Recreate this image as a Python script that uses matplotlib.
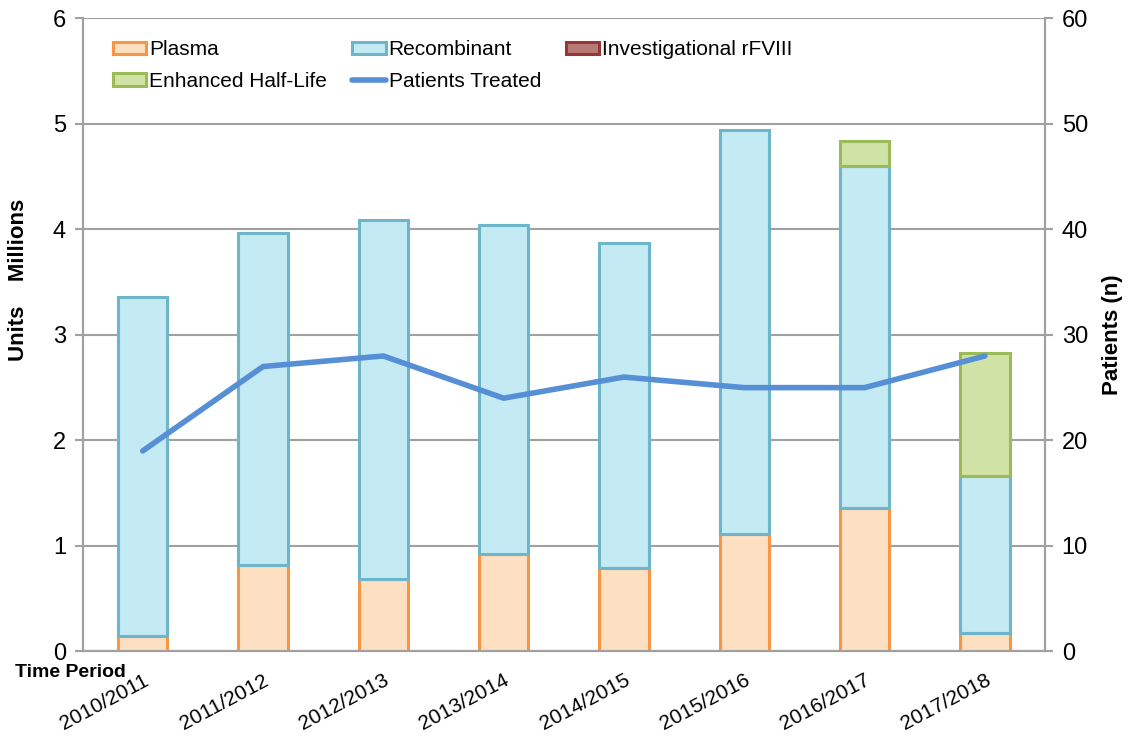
import numpy as np
import matplotlib.pyplot as plt

periods = ["2010/2011", "2011/2012", "2012/2013", "2013/2014",
           "2014/2015", "2015/2016", "2016/2017", "2017/2018"]
plasma = [0.15, 0.82, 0.69, 0.92, 0.79, 1.11, 1.36, 0.17]
recombinant = [3.21, 3.15, 3.40, 3.12, 3.08, 3.83, 3.24, 1.49]
investigational = [0, 0, 0, 0, 0, 0, 0, 0]
enhanced = [0, 0, 0, 0, 0, 0, 0.24, 1.17]
patients = [19, 27, 28, 24, 26, 25, 25, 28]

plt.rcParams['font.family'] = ['Liberation Sans', 'DejaVu Sans']

fig = plt.figure(figsize=(11.31, 7.36), dpi=100)
ax = fig.add_axes([0.073, 0.115, 0.851, 0.86])
ax2 = ax.twinx()

x = np.arange(len(periods)) + 0.5
w = 0.41
series = [
    ("Plasma", plasma, "#fde0c2", "#f79646"),
    ("Recombinant", recombinant, "#c4eaf4", "#6db5c9"),
    ("Investigational rFVIII", investigational, "#b87a76", "#953735"),
    ("Enhanced Half-Life", enhanced, "#d1e2a6", "#9bbb59"),
]
bottom = np.zeros(len(periods))
handles = {}
for name, vals, face, edge in series:
    vals = np.array(vals, dtype=float)
    keep = vals > 0
    # zero-height segments are skipped so they leave no edge line
    b = ax.bar(x[keep], vals[keep], w, bottom=bottom[keep], color=face,
               edgecolor=edge, linewidth=2.2, label=name, zorder=3)
    if not keep.any():
        b = plt.Rectangle((0, 0), 1, 1, facecolor=face, edgecolor=edge,
                          linewidth=2.2)
    handles[name] = b
    bottom += vals

ln, = ax2.plot(x, patients, color="#568fd6", lw=4, solid_capstyle="round",
               label="Patients Treated", zorder=4)
handles["Patients Treated"] = ln

ax.set_xlim(0, 8)
ax.set_ylim(0, 6)
ax2.set_ylim(0, 60)
ax.set_yticks(range(0, 7))
ax2.set_yticks(range(0, 61, 10))
ax.yaxis.grid(True, color="#a0a0a0", lw=1.5, zorder=0)
ax.set_axisbelow(True)

for a in (ax, ax2):
    a.spines["top"].set_visible(False)
    for s in ("left", "right", "bottom"):
        a.spines[s].set_color("#a0a0a0")
        a.spines[s].set_linewidth(1.5)
    a.tick_params(axis="y", labelsize=17, length=6, color="#a0a0a0", width=1.5,
                  pad=6)

ax.set_xticks(x)
ax.set_xticklabels(periods, rotation=28, ha="right", rotation_mode="anchor",
                   fontsize=15)
ax.tick_params(axis="x", length=0, pad=14)

fig.text(0.016, 0.62, "Units    Millions", rotation=90, fontsize=16,
         fontweight="bold", ha="center", va="center")
fig.text(0.013, 0.086, "Time Period", fontsize=14, fontweight="bold",
         ha="left", va="center")
ax2.set_ylabel("Patients (n)", fontsize=16, fontweight="bold", labelpad=10)

# column-major order so rows read Plasma / Recombinant / Investigational
order = ["Plasma", "Enhanced Half-Life", "Recombinant", "Patients Treated",
         "Investigational rFVIII"]
ax.legend([handles[k] for k in order], order, loc="upper left", ncol=3,
          frameon=False, fontsize=15, bbox_to_anchor=(0.012, 0.995),
          handlelength=1.6, handleheight=0.55, handletextpad=0.15,
          columnspacing=1.2, labelspacing=0.6)

fig.savefig("out.png", dpi=100)
